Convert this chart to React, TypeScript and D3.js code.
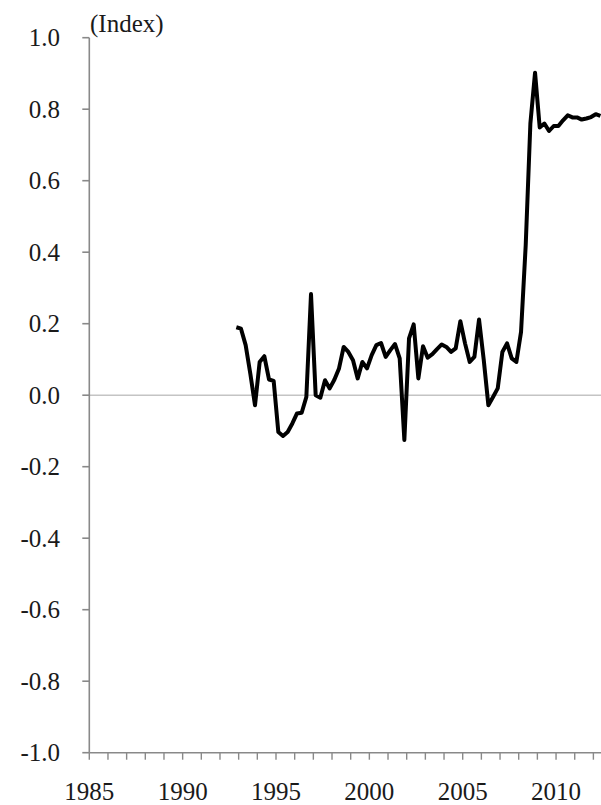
import React from "react";
import * as d3 from "d3";

// Quarterly index, 1992Q4 .. 2012Q2
const startYear = 1992;
const startQuarter = 4;
const values: number[] = [
  0.19, 0.186, 0.14, 0.06, -0.028, 0.093, 0.109, 0.044, 0.04, -0.103,
  -0.114, -0.103, -0.079, -0.051, -0.049, -0.005, 0.283, 0.0, -0.007, 0.042,
  0.019, 0.043, 0.075, 0.135, 0.121, 0.098, 0.047, 0.093, 0.075, 0.112,
  0.14, 0.146, 0.107, 0.126, 0.143, 0.103, -0.125, 0.159, 0.198, 0.047,
  0.137, 0.105, 0.115, 0.129, 0.142, 0.135, 0.121, 0.131, 0.207, 0.145,
  0.093, 0.107, 0.212, 0.1, -0.028, -0.005, 0.019, 0.121, 0.145, 0.103,
  0.093, 0.177, 0.42, 0.76, 0.902, 0.749, 0.76, 0.739, 0.753, 0.753,
  0.769, 0.783, 0.777, 0.777, 0.771, 0.774, 0.778, 0.786, 0.781,
];
const yTicks: number[] = [1.0, 0.8, 0.6, 0.4, 0.2, 0.0, -0.2, -0.4, -0.6, -0.8, -1.0];
const yearTicks: number[] = d3.range(1985, 2013);
const yearLabels: number[] = [1985, 1990, 1995, 2000, 2005, 2010];
const unitLabel = "(Index)";

const FONT = "Liberation Serif, DejaVu Serif, serif";

export default function App() {
  const W = 601;
  const H = 805;
  const x0 = 89.3;
  const x = d3.scaleLinear().domain([1985, 2012.5]).range([x0, x0 + 27.5 * 18.67]);
  const y = d3.scaleLinear().domain([-1, 1]).range([752.7, 37.7]);

  const pts = values.map((v, i) => {
    const qIdx = startQuarter - 1 + i;
    const yr = startYear + Math.floor(qIdx / 4);
    const q = (qIdx % 4) + 1;
    return { t: yr + (q - 0.5) / 4, v };
  });
  const line = d3
    .line<{ t: number; v: number }>()
    .x((d) => x(d.t))
    .y((d) => y(d.v));

  const axisColor = "#898989";

  return (
    <div style={{ position: "absolute", left: 0, top: 0, fontFamily: FONT }}>
      <svg width={W} height={H} style={{ display: "block", background: "#fff" }}>
        <line x1={x0} x2={W} y1={y(0)} y2={y(0)} stroke="#c4c4c4" strokeWidth={1.6} />
        <line x1={x0} x2={x0} y1={y(1)} y2={y(-1)} stroke={axisColor} strokeWidth={1.6} />
        {yTicks.map((t) => (
          <g key={t}>
            <line x1={x0 - 7} x2={x0} y1={y(t)} y2={y(t)} stroke={axisColor} strokeWidth={1.6} />
            <text x={60} y={y(t) + 8.5} textAnchor="end" fontFamily={FONT} fontSize={25} fill="#1a1a1a">
              {t.toFixed(1)}
            </text>
          </g>
        ))}
        <line x1={x0} x2={W} y1={y(-1)} y2={y(-1)} stroke={axisColor} strokeWidth={1.6} />
        {yearTicks.map((yr) => (
          <line
            key={yr}
            x1={x(yr)}
            x2={x(yr)}
            y1={y(-1)}
            y2={y(-1) + 7}
            stroke={axisColor}
            strokeWidth={1.4}
          />
        ))}
        {yearLabels.map((yr) => (
          <text key={yr} x={x(yr)} y={800} textAnchor="middle" fontFamily={FONT} fontSize={25} fill="#1a1a1a">
            {yr}
          </text>
        ))}
        <text x={90} y={32} fontFamily={FONT} fontSize={25} fill="#1a1a1a">
          {unitLabel}
        </text>
        <path
          d={line(pts) || ""}
          fill="none"
          stroke="#000"
          strokeWidth={4}
          strokeLinejoin="round"
          strokeLinecap="butt"
        />
      </svg>
    </div>
  );
}
